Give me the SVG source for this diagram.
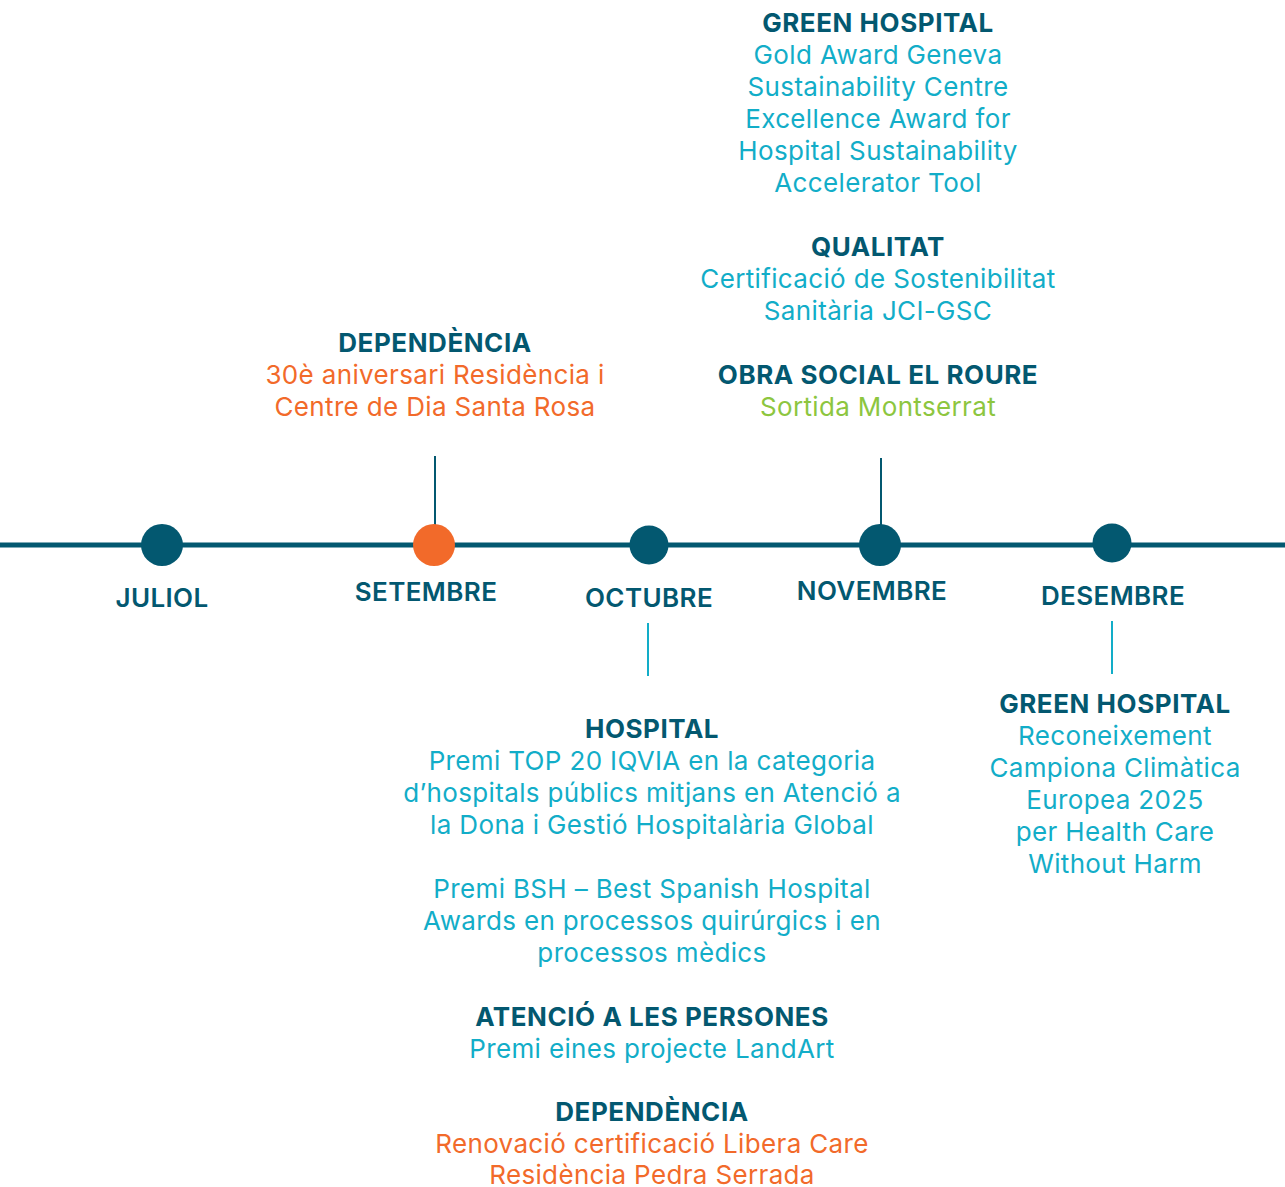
<svg xmlns="http://www.w3.org/2000/svg" width="1285" height="1187" viewBox="0 0 1285 1187">
<style>
text{font-family:Inter,"Liberation Sans",sans-serif;font-size:26px;text-anchor:middle;letter-spacing:0.35px}
.h{font-weight:700;fill:#035870;letter-spacing:0.55px}
.m{font-weight:600;fill:#035870;letter-spacing:0.4px}
.c{fill:#12adc8}
.o{fill:#f26a2a}
.g{fill:#8dc63f}
.dot{fill:#035870}
.ln{stroke:#035870;stroke-width:2}
.lc{stroke:#12adc8;stroke-width:2}
</style>
<rect width="1285" height="1187" fill="#fff"/>
<g id="connectors">
<line x1="0" y1="545" x2="1285" y2="545" stroke="#035870" stroke-width="5"/>
<line class="ln" x1="435" y1="456" x2="435" y2="528"/>
<line class="ln" x1="881" y1="458" x2="881" y2="528"/>
<line class="lc" x1="648" y1="623" x2="648" y2="676"/>
<line class="lc" x1="1112" y1="621" x2="1112" y2="674"/>
</g>
<g id="juliol"><circle class="dot" cx="162" cy="545" r="21"/><text class="m" x="162" y="607">JULIOL</text></g>
<g id="setembre"><circle cx="434" cy="545" r="21" fill="#f26a2a"/><text class="m" x="426" y="601">SETEMBRE</text></g>
<g id="octubre"><circle class="dot" cx="649" cy="545" r="19.5"/><text class="m" x="649" y="607">OCTUBRE</text></g>
<g id="novembre"><circle class="dot" cx="880" cy="545" r="21"/><text class="m" x="872" y="600">NOVEMBRE</text></g>
<g id="desembre"><circle class="dot" cx="1112" cy="543" r="19.5"/><text class="m" x="1113" y="605">DESEMBRE</text></g>
<g id="setembre-text">
<text class="h" x="435" y="352">DEPENDÈNCIA</text>
<text class="o" x="435" y="384">30è aniversari Residència i</text>
<text class="o" x="435" y="416">Centre de Dia Santa Rosa</text>
</g>
<g id="novembre-text">
<text class="h" x="878" y="32">GREEN HOSPITAL</text>
<text class="c" x="878" y="64">Gold Award Geneva</text>
<text class="c" x="878" y="96">Sustainability Centre</text>
<text class="c" x="878" y="128">Excellence Award for</text>
<text class="c" x="878" y="160">Hospital Sustainability</text>
<text class="c" x="878" y="192">Accelerator Tool</text>
<text class="h" x="878" y="256">QUALITAT</text>
<text class="c" x="878" y="288">Certificació de Sostenibilitat</text>
<text class="c" x="878" y="320">Sanitària JCI-GSC</text>
<text class="h" x="878" y="384">OBRA SOCIAL EL ROURE</text>
<text class="g" x="878" y="416">Sortida Montserrat</text>
</g>
<g id="octubre-text">
<text class="h" x="652" y="738">HOSPITAL</text>
<text class="c" x="652" y="770">Premi TOP 20 IQVIA en la categoria</text>
<text class="c" x="652" y="802">d’hospitals públics mitjans en Atenció a</text>
<text class="c" x="652" y="834">la Dona i Gestió Hospitalària Global</text>
<text class="c" x="652" y="898">Premi BSH – Best Spanish Hospital</text>
<text class="c" x="652" y="930">Awards en processos quirúrgics i en</text>
<text class="c" x="652" y="962">processos mèdics</text>
<text class="h" x="652" y="1026">ATENCIÓ A LES PERSONES</text>
<text class="c" x="652" y="1058">Premi eines projecte LandArt</text>
<text class="h" x="652" y="1121">DEPENDÈNCIA</text>
<text class="o" x="652" y="1153">Renovació certificació Libera Care</text>
<text class="o" x="652" y="1184">Residència Pedra Serrada</text>
</g>
<g id="desembre-text">
<text class="h" x="1115" y="713">GREEN HOSPITAL</text>
<text class="c" x="1115" y="745">Reconeixement</text>
<text class="c" x="1115" y="777">Campiona Climàtica</text>
<text class="c" x="1115" y="809">Europea 2025</text>
<text class="c" x="1115" y="841">per Health Care</text>
<text class="c" x="1115" y="873">Without Harm</text>
</g>
</svg>
